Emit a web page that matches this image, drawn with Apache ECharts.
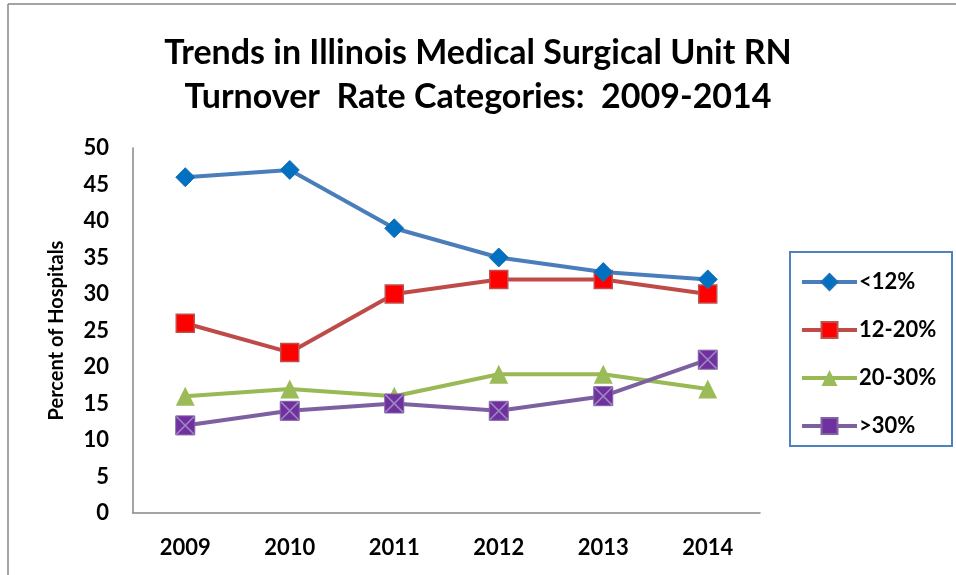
<!DOCTYPE html>
<html lang="en">
<head>
    <meta charset="UTF-8">
    <title>RN Turnover</title>
    <script src="https://cdn.jsdelivr.net/npm/echarts@6/dist/echarts.min.js"></script>
    <style>
        html, body { margin: 0; padding: 0; background: #fff; }
    </style>
</head>
<body>

<div id="main" style="width: 956px;height:575px;"></div>

<script type="text/javascript">
    // data
    var years = ['2009', '2010', '2011', '2012', '2013', '2014'];
    var seriesNames = ['<12%', '12-20%', '20-30%', '>30%'];
    var under12 = [46, 47, 39, 35, 33, 32];
    var r12to20 = [26, 22, 30, 32, 32, 30];
    var r20to30 = [16, 17, 16, 19, 19, 17];
    var over30 = [12, 14, 15, 14, 16, 21];

    var font = "Lato, 'Open Sans', sans-serif";
    var crossSquare = 'path://M0,0H20V20H0Z';
    var crossLines = 'path://M0,1.2L1.2,0L20,18.8L18.8,20Z M18.8,0L20,1.2L1.2,20L0,18.8Z';

    var myChart = echarts.init(document.getElementById('main'));

    var option = {
        backgroundColor: '#fff',
        animation: false,
        title: {
            text: 'Trends in Illinois Medical Surgical Unit RN\nTurnover  Rate Categories:  2009-2014',
            left: 'center',
            top: 26,
            textStyle: {
                fontFamily: font,
                fontWeight: 'bold',
                fontSize: 34,
                lineHeight: 44,
                color: '#000'
            }
        },
        graphic: [
            // outer frame (top and left edges visible)
            { type: 'line', shape: { x1: 8, y1: 4, x2: 956, y2: 4 }, style: { stroke: '#868686', lineWidth: 1.5 } },
            { type: 'line', shape: { x1: 8, y1: 4, x2: 8, y2: 575 }, style: { stroke: '#868686', lineWidth: 1.5 } },
            // legend box
            { type: 'rect', shape: { x: 790, y: 252, width: 162, height: 194 }, style: { fill: 'none', stroke: '#4F81BD', lineWidth: 2 } }
        ],
        legend: {
            orient: 'vertical',
            left: 795,
            top: 266,
            itemWidth: 55,
            itemHeight: 20,
            itemGap: 26,
            data: seriesNames,
            lineStyle: { width: 4 },
            textStyle: {
                fontFamily: font,
                fontWeight: 'bold',
                fontSize: 22,
                color: '#000',
                padding: [0, 0, 0, -3]
            }
        },
        grid: {
            left: 133,
            top: 148,
            right: 196,
            bottom: 62,
            containLabel: false
        },
        xAxis: {
            type: 'category',
            data: years,
            boundaryGap: true,
            axisLine: { lineStyle: { color: '#868686', width: 1.5 } },
            axisTick: { show: false },
            axisLabel: {
                margin: 24,
                fontFamily: font,
                fontWeight: 'bold',
                fontSize: 22,
                color: '#000'
            }
        },
        yAxis: {
            type: 'value',
            min: 0,
            max: 50,
            interval: 5,
            name: 'Percent of Hospitals',
            nameLocation: 'middle',
            nameGap: 66,
            nameTextStyle: {
                fontFamily: font,
                fontWeight: 'bold',
                fontSize: 20,
                color: '#000'
            },
            axisLine: { show: true, lineStyle: { color: '#868686', width: 1.5 } },
            axisTick: { show: false },
            splitLine: { show: false },
            axisLabel: {
                margin: 24,
                fontFamily: font,
                fontWeight: 'bold',
                fontSize: 22,
                color: '#000'
            }
        },
        series: [
            {
                name: seriesNames[0],
                type: 'line',
                data: under12,
                symbol: 'diamond',
                symbolSize: 19,
                lineStyle: { color: '#4A7EBB', width: 4 },
                itemStyle: { color: '#0070C0', borderColor: '#1F6FB8', borderWidth: 1 },
                z: 4
            },
            {
                name: seriesNames[1],
                type: 'line',
                data: r12to20,
                symbol: 'rect',
                symbolSize: 18,
                lineStyle: { color: '#BE4B48', width: 4 },
                itemStyle: { color: '#FF0000', borderColor: '#C0504D', borderWidth: 1.5 },
                z: 3
            },
            {
                name: seriesNames[2],
                type: 'line',
                data: r20to30,
                symbol: 'triangle',
                symbolSize: 19,
                lineStyle: { color: '#98B954', width: 4 },
                itemStyle: { color: '#9BBB59', borderColor: '#9BBB59', borderWidth: 0 },
                z: 2
            },
            {
                name: seriesNames[3],
                type: 'line',
                data: over30,
                symbol: crossSquare,
                symbolSize: 19,
                lineStyle: { color: '#7D60A0', width: 4 },
                itemStyle: { color: '#7030A0', borderColor: '#8064A2', borderWidth: 1 },
                z: 5
            },
            {
                // the X drawn across the purple squares
                name: 'x-overlay',
                type: 'line',
                data: over30,
                symbol: crossLines,
                symbolSize: 19,
                lineStyle: { width: 0, opacity: 0 },
                itemStyle: { color: '#9C86BE' },
                silent: true,
                z: 6
            }
        ]
    };

    myChart.setOption(option);
</script>
</body>
</html>
